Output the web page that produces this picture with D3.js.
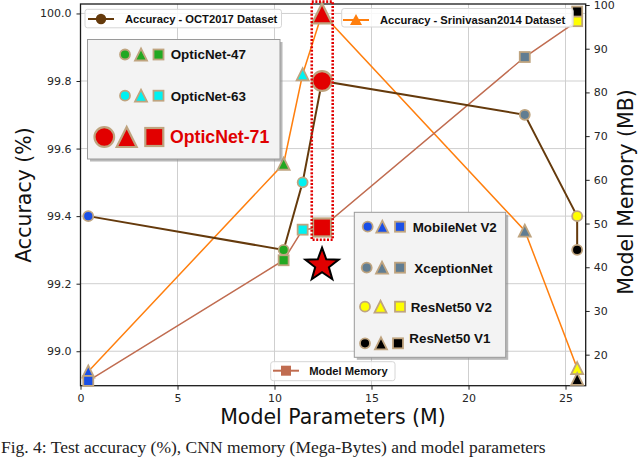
<!DOCTYPE html>
<html><head><meta charset="utf-8">
<script src="https://cdn.jsdelivr.net/npm/d3@7"></script>
<style>html,body{margin:0;padding:0;background:#fff;} svg{display:block;}</style>
</head><body>
<svg id="chart" width="640" height="458"></svg>
<script>
// ---- data ----
const models   = ["MobileNet V2","OpticNet-47","OpticNet-63","OpticNet-71","XceptionNet","ResNet50 V2","ResNet50 V1"];
const params   = [0.4, 10.47, 11.45, 12.45, 22.9, 25.6, 25.6];          // M
const accOCT   = [99.40, 99.30, 99.50, 99.80, 99.70, 99.40, 99.30];      // %
const accSrini = [98.94, 99.555, 99.82, 100.0, 99.357, 98.95, 98.918];   // %
const memory   = [14.0, 41.6, 48.6, 49.1, 88.1, 96.3, 98.5];             // MB
const xTicks   = [0, 5, 10, 15, 20, 25];
const yLTicks  = [99.0, 99.2, 99.4, 99.6, 99.8, 100.0];
const yRTicks  = [20, 30, 40, 50, 60, 70, 80, 90, 100];
const starPoint = {params: 12.45, memory: 40.5};
const highlight = {x0: 11.92, x1: 13.0, y0: 99.33, y1: 100.035};
const legendGroupA = ["OpticNet-47","OpticNet-63","OpticNet-71"];
const legendGroupB = ["MobileNet V2","XceptionNet","ResNet50 V2","ResNet50 V1"];

// ---- styles ----
const fillOf = {"MobileNet V2":"#1a4fe6","OpticNet-47":"#22a822","OpticNet-63":"#00f2f2","OpticNet-71":"#e20000",
                "XceptionNet":"#617d92","ResNet50 V2":"#ffff00","ResNet50 V1":"#000000"};
const EDGE = "#bfa47f";
const C_OCT = "#653a0c", C_SRI = "#ff7f0e", C_MEM = "#c06c50";

const svg = d3.select("#chart");
const x  = d3.scaleLinear([0, 26.04], [80.5, 585.7]);
const yL = d3.scaleLinear([98.898, 100.028], [385.7, 4]);
const yR = d3.scaleLinear([12.9, 100.23], [385.7, 4]);

// grid
const grid = svg.append("g").attr("stroke","#cfcfcf").attr("stroke-width",1);
xTicks.forEach(t => grid.append("line").attr("x1",x(t)).attr("x2",x(t)).attr("y1",4).attr("y2",385.7));
yLTicks.forEach(t => grid.append("line").attr("x1",80.5).attr("x2",585.7).attr("y1",yL(t)).attr("y2",yL(t)));

// axes
const fontTick = "'DejaVu Sans', sans-serif";
const axL = svg.append("g").attr("transform","translate(80.5,0)")
  .call(d3.axisLeft(yL).tickValues(yLTicks).tickFormat(d3.format(".1f")).tickSize(4).tickPadding(5));
const axR = svg.append("g").attr("transform","translate(585.7,0)")
  .call(d3.axisRight(yR).tickValues(yRTicks).tickFormat(d3.format("d")).tickSize(4).tickPadding(4));
const axB = svg.append("g").attr("transform","translate(0,385.7)")
  .call(d3.axisBottom(x).tickValues(xTicks).tickFormat(d3.format("d")).tickSize(4).tickPadding(5));
[axL,axR,axB].forEach(a => {
  a.select(".domain").remove();
  a.selectAll("text").attr("font-family",fontTick).attr("font-size",11).attr("fill","#262626");
  a.selectAll("line").attr("stroke","#222").attr("stroke-width",1);
});
svg.append("rect").attr("x",80.5).attr("y",4).attr("width",585.7-80.5).attr("height",385.7-4)
  .attr("fill","none").attr("stroke","#1a1a1a").attr("stroke-width",1.3);

// lines
const idx = d3.range(models.length);
svg.append("path").attr("d", d3.line().x(i=>x(params[i])).y(i=>yL(accSrini[i]))(idx))
  .attr("fill","none").attr("stroke",C_SRI).attr("stroke-width",1.5);
svg.append("path").attr("d", d3.line().x(i=>x(params[i])).y(i=>yR(memory[i]))(idx))
  .attr("fill","none").attr("stroke",C_MEM).attr("stroke-width",1.5);
svg.append("path").attr("d", d3.line().x(i=>x(params[i])).y(i=>yL(accOCT[i]))(idx))
  .attr("fill","none").attr("stroke",C_OCT).attr("stroke-width",2);

// marker helper
function marker(g, shape, cx, cy, big, fill, scale) {
  const s = scale || 1;
  const sw = big ? 2.2 : 1.8;
  if (shape === "circle") {
    g.append("circle").attr("cx",cx).attr("cy",cy).attr("r",(big?9.8:5)*s)
      .attr("fill",fill).attr("stroke",EDGE).attr("stroke-width",sw);
  } else if (shape === "triangle") {
    const h = (big?10:6)*s;
    g.append("path").attr("d",`M${cx},${cy-h}L${cx+h},${cy+h}L${cx-h},${cy+h}Z`)
      .attr("fill",fill).attr("stroke",EDGE).attr("stroke-width",sw).attr("stroke-linejoin","miter");
  } else {
    const h = (big?9:5)*s;
    g.append("rect").attr("x",cx-h).attr("y",cy-h).attr("width",2*h).attr("height",2*h)
      .attr("fill",fill).attr("stroke",EDGE).attr("stroke-width",sw);
  }
}

const mk = svg.append("g");
idx.forEach(i => {
  const big = models[i] === "OpticNet-71";
  marker(mk, "circle",   x(params[i]), yL(accOCT[i]),   big, fillOf[models[i]]);
  marker(mk, "triangle", x(params[i]), yL(accSrini[i]), big, fillOf[models[i]]);
  marker(mk, "square",   x(params[i]), yR(memory[i]),   big, fillOf[models[i]]);
});

// highlight box
svg.append("rect").attr("x",x(highlight.x0)).attr("y",yL(highlight.y1))
  .attr("width",x(highlight.x1)-x(highlight.x0)).attr("height",yL(highlight.y0)-yL(highlight.y1))
  .attr("fill","none").attr("stroke","#e00000").attr("stroke-width",2.6).attr("stroke-dasharray","2,1.6");

// star
const sx = x(starPoint.params), sy = yR(starPoint.memory);
const starPts = d3.range(10).map(k => {
  const r = k%2===0 ? 17.5 : 7.2, a = -Math.PI/2 + k*Math.PI/5;
  return [sx + r*Math.cos(a), sy + r*Math.sin(a)];
});
svg.append("path").attr("d","M"+starPts.join("L")+"Z").attr("fill","#e00000")
  .attr("stroke","#000").attr("stroke-width",2).attr("stroke-linejoin","miter");

// simple legends
const fontLeg = "'Liberation Sans', Arial, sans-serif";
function simpleLegend(bx, by, bw, bh, color, shape, label, lx, ly, tx) {
  const g = svg.append("g");
  g.append("rect").attr("x",bx).attr("y",by).attr("width",bw).attr("height",bh).attr("rx",2.5)
    .attr("fill","#fff").attr("fill-opacity",0.85).attr("stroke","#d6d6d6").attr("stroke-width",1);
  g.append("line").attr("x1",lx).attr("x2",lx+26).attr("y1",ly).attr("y2",ly).attr("stroke",color).attr("stroke-width",2);
  const cx = lx+13;
  if (shape==="circle") g.append("circle").attr("cx",cx).attr("cy",ly).attr("r",5.2).attr("fill",color);
  else if (shape==="triangle") g.append("path").attr("d",`M${cx},${ly-6}L${cx+6},${ly+5}L${cx-6},${ly+5}Z`).attr("fill",color);
  else g.append("rect").attr("x",cx-5).attr("y",ly-5).attr("width",10).attr("height",10).attr("fill",color);
  g.append("text").attr("x",tx).attr("y",ly+4).attr("font-family",fontLeg).attr("font-weight","bold")
    .attr("font-size",11.2).attr("fill","#111").text(label);
}
simpleLegend(85, 9.3, 196.5, 18.5, C_OCT, "circle", "Accuracy - OCT2017 Dataset", 88, 19, 125);
simpleLegend(341.7, 8.5, 231.5, 18.5, C_SRI, "triangle", "Accuracy - Srinivasan2014 Dataset", 343, 20, 380);
simpleLegend(270.7, 361.7, 124.3, 19, C_MEM, "square", "Model Memory", 273, 370.7, 309.3);

// model legends (with shadow)
function boxLegend(bx, by, bw, bh) {
  const g = svg.append("g");
  g.append("rect").attr("x",bx+2.5).attr("y",by+2.5).attr("width",bw).attr("height",bh).attr("fill","#8a8a8a").attr("opacity",0.6);
  g.append("rect").attr("x",bx).attr("y",by).attr("width",bw).attr("height",bh)
    .attr("fill","#f3f3f3").attr("stroke","#9a9a9a").attr("stroke-width",1);
  return g;
}
const gA = boxLegend(87.5, 39.5, 192.5, 119.5);
const rowsA = [
  {cy: 54.5, cxs:[125,141,158.5], tx:170.7, fs:13.4, color:"#111", big:false, dy:4.8},
  {cy: 95.7, cxs:[125,141,158.5], tx:170.7, fs:13.4, color:"#111", big:false, dy:4.8},
  {cy: 137, cxs:[104.3,126.7,154.3], tx:170, fs:17.7, color:"#e00000", big:true, dy:6.3}
];
legendGroupA.forEach((m,i) => {
  const r = rowsA[i];
  marker(gA,"circle",r.cxs[0],r.cy,r.big,fillOf[m]);
  marker(gA,"triangle",r.cxs[1],r.cy,r.big,fillOf[m]);
  marker(gA,"square",r.cxs[2],r.cy,r.big,fillOf[m]);
  gA.append("text").attr("x",r.tx).attr("y",r.cy+r.dy).attr("font-family",fontLeg).attr("font-weight","bold")
    .attr("font-size",r.fs).attr("fill",r.color).text(m);
});
const gB = boxLegend(354.3, 212.3, 151.4, 145);
const rowsB = [
  {cy:226.7, cxs:[367.7,382.3,400], tx:412.7, ty:231.5},
  {cy:267.7, cxs:[366.7,382,400], tx:414.3, ty:272.5},
  {cy:306.7, cxs:[365,380.5,400], tx:410.7, ty:311.5},
  {cy:343.3, cxs:[365,381,398], tx:409.3, ty:343}
];
legendGroupB.forEach((m,i) => {
  const r = rowsB[i];
  marker(gB,"circle",r.cxs[0],r.cy,false,fillOf[m]);
  marker(gB,"triangle",r.cxs[1],r.cy,false,fillOf[m]);
  marker(gB,"square",r.cxs[2],r.cy,false,fillOf[m]);
  gB.append("text").attr("x",r.tx).attr("y",r.ty).attr("font-family",fontLeg).attr("font-weight","bold")
    .attr("font-size",13.4).attr("fill","#111").text(m);
});

// axis labels
const fontLab = "'DejaVu Sans', sans-serif";
svg.append("text").attr("transform","translate(30.5,195) rotate(-90)").attr("text-anchor","middle")
  .attr("font-family",fontLab).attr("font-size",20.5).attr("fill","#111").text("Accuracy (%)");
svg.append("text").attr("transform","translate(633,192) rotate(-90)").attr("text-anchor","middle")
  .attr("font-family",fontLab).attr("font-size",20.5).attr("fill","#111").text("Model Memory (MB)");
svg.append("text").attr("x",333).attr("y",424).attr("text-anchor","middle")
  .attr("font-family",fontLab).attr("font-size",20.5).attr("fill","#111").text("Model Parameters (M)");

// caption
svg.append("text").attr("x",1).attr("y",453).attr("font-family","'Liberation Serif', serif")
  .attr("font-size",17.5).attr("fill","#222").text("Fig. 4: Test accuracy (%), CNN memory (Mega-Bytes) and model parameters");
</script>
</body></html>
